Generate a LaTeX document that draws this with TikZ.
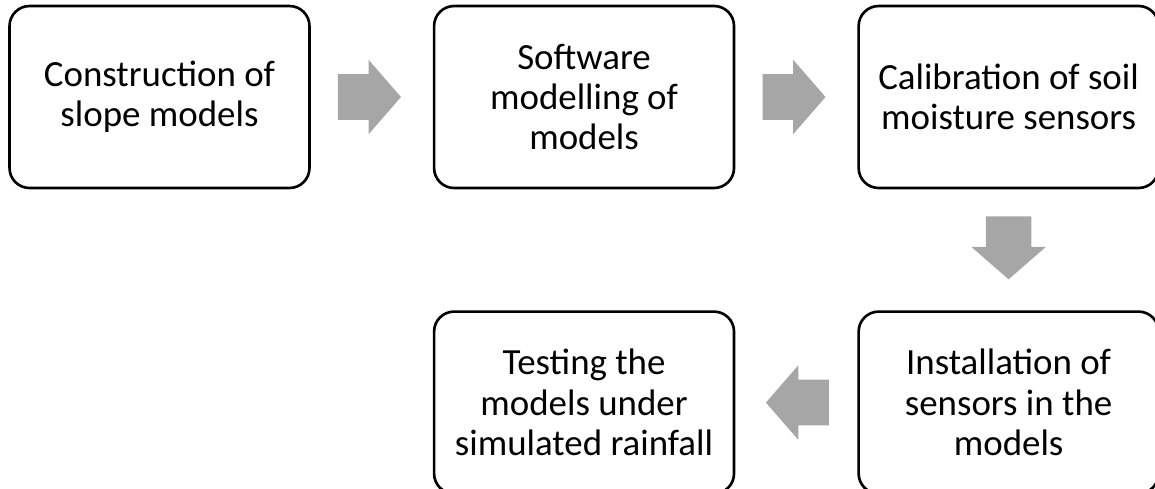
\documentclass[tikz,border=0pt]{standalone}
\usepackage{fontspec}
\setmainfont{Carlito}
\usetikzlibrary{positioning, shapes.arrows, calc}
\definecolor{arrowgray}{RGB}{166,166,166}
\tikzset{
node distance=2.44cm, % gap between two neighbouring boxes
stepbox/.style={draw, line width=1.5pt, rounded corners=0.4cm,
  minimum width=6cm, minimum height=3.64cm, align=center,
  font=\fontsize{21}{23}\selectfont}, % the rounded step boxes
blockarrow/.style={single arrow, fill=arrowgray, draw=none, anchor=tail,
  inner xsep=0pt, inner ysep=0.45cm, minimum height=1.26cm,
  single arrow head extend=0.29cm, single arrow tip angle=98}, % grey block arrows
}

\begin{document}
\begin{tikzpicture}[x=0.02cm, y=-0.02cm]
  \useasboundingbox (0,0) rectangle (1155,488);
  \node[stepbox] (construct) at (159.5,97) {Construction of\\slope models};
  \node[stepbox, right=of construct] (software) {Software\\modelling of\\models};
  \node[stepbox, right=of software] (calib) {Calibration of soil\\moisture sensors};
  \node[stepbox, below=2.42cm of calib] (install) {Installation of\\sensors in the\\models};
  \node[stepbox, left=of install] (testing) {Testing the\\models under\\simulated rainfall};

  \node[blockarrow] (a1) at ($(construct.east)!0.22!(software.west)$) {};
  \node[blockarrow] (a2) at ($(software.east)!0.22!(calib.west)$) {};
  \node[blockarrow, rotate=-90] (a3) at ($(calib.south)!0.22!(install.north)$) {};
  \node[blockarrow, rotate=180] (a4) at ($(install.west)!0.23!(testing.east)$) {};
\end{tikzpicture}
\end{document}
